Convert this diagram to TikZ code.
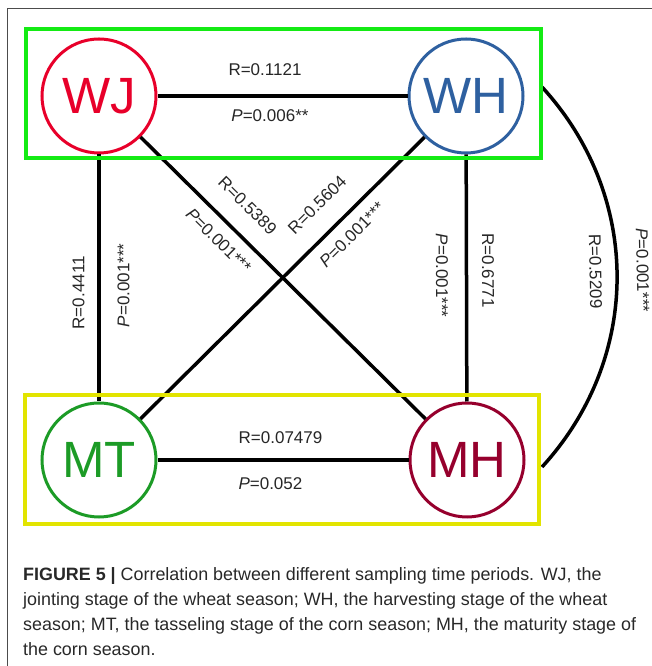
\documentclass[tikz,border=0pt]{standalone}
\usepackage{fontspec}
\setmainfont{Liberation Sans}
\usepackage{xcolor}
\definecolor{wheatgreen}{RGB}{20,235,20}
\definecolor{maizeyellow}{RGB}{226,228,0}
\definecolor{wjred}{RGB}{232,0,42}
\definecolor{whblue}{RGB}{46,96,160}
\definecolor{mtgreen}{RGB}{28,155,38}
\definecolor{mhred}{RGB}{150,0,45}
\definecolor{captext}{RGB}{40,40,40}

\begin{document}
\begin{tikzpicture}[x=1bp, y=1bp,
    stage/.style={circle, draw=#1, text=#1, line width=3bp, minimum size=114bp, inner sep=0pt,
                  font=\fontsize{51bp}{51bp}\selectfont},
    groupbox/.style={rectangle, draw=#1, line width=3.5bp, minimum width=515bp, minimum height=129bp},
    link/.style={line width=3.5bp, black},
    lab/.style={font=\fontsize{17bp}{20bp}\selectfont, text=black!85},
    slab/.style={lab, sloped}]
    \useasboundingbox (0,0) rectangle (652,666);
    % outer frame of the figure
    \draw[line width=1.5bp, black!70] (7.5,0) -- (7.5,657.3) -- (652,657.3);

    % sampling periods
    \node[stage=wjred] (WJ) at (99,570) {WJ};
    \node[stage=whblue] (WH) at (466,570) {WH};
    \node[stage=mtgreen] (MT) at (99,206) {MT};
    \node[stage=mhred] (MH) at (467,206) {MH};

    % correlations
    \draw[link] (WJ) -- (WH)
        node[lab, pos=.43, above=15bp] {R=0.1121}
        node[lab, pos=.45, below=9bp] {\textit{P}=0.006**};
    \draw[link] (MT) -- (MH)
        node[lab, pos=.49, above=11.5bp] {R=0.07479}
        node[lab, pos=.45, below=12.5bp] {\textit{P}=0.052};
    \draw[link] (MT) -- (WJ)
        node[slab, pos=.44, above=9.5bp] {R=0.4411}
        node[slab, pos=.47, below=13.5bp] {\textit{P}=0.001***};
    \draw[link] (WH) -- (MH)
        node[slab, pos=.47, above=10.5bp] {R=0.6771}
        node[slab, pos=.49, below=13.5bp] {\textit{P}=0.001***};
    \draw[link] (WJ) -- (MH)
        node[slab, pos=.31, above=15.5bp] {R=0.5389}
        node[slab, pos=.32, below=7.5bp] {\textit{P}=0.001***};
    \draw[link] (MT) -- (WH)
        node[slab, pos=.69, above=16.5bp] {R=0.5604}
        node[slab, pos=.70, below=7bp] {\textit{P}=0.001***};
    \coordinate (arcA) at (542,579);
    \coordinate (arcB) at (542,199);
    \draw[link] (arcA) to[out=-47.5, in=47.5]
        node[slab, pos=.485, above=14.5bp] {\textit{P}=0.001***}
        node[slab, pos=.485, below=10.5bp] {R=0.5209} (arcB);

    % seasons
    \node[groupbox=wheatgreen] (wheat) at (283.5,572.5) {};
    \node[groupbox=maizeyellow, minimum width=514bp] (maize) at (282,206.5) {};

    \node[anchor=north west, inner sep=0pt, align=left, text=captext,
          font=\fontsize{17.9bp}{25bp}\selectfont] (caption) at (23,98.5)
        {\textbf{FIGURE 5 |} Correlation between different sampling time periods. WJ, the\\
         jointing stage of the wheat season; WH, the harvesting stage of the wheat\\
         season; MT, the tasseling stage of the corn season; MH, the maturity stage of\\
         the corn season.};
\end{tikzpicture}
\end{document}
